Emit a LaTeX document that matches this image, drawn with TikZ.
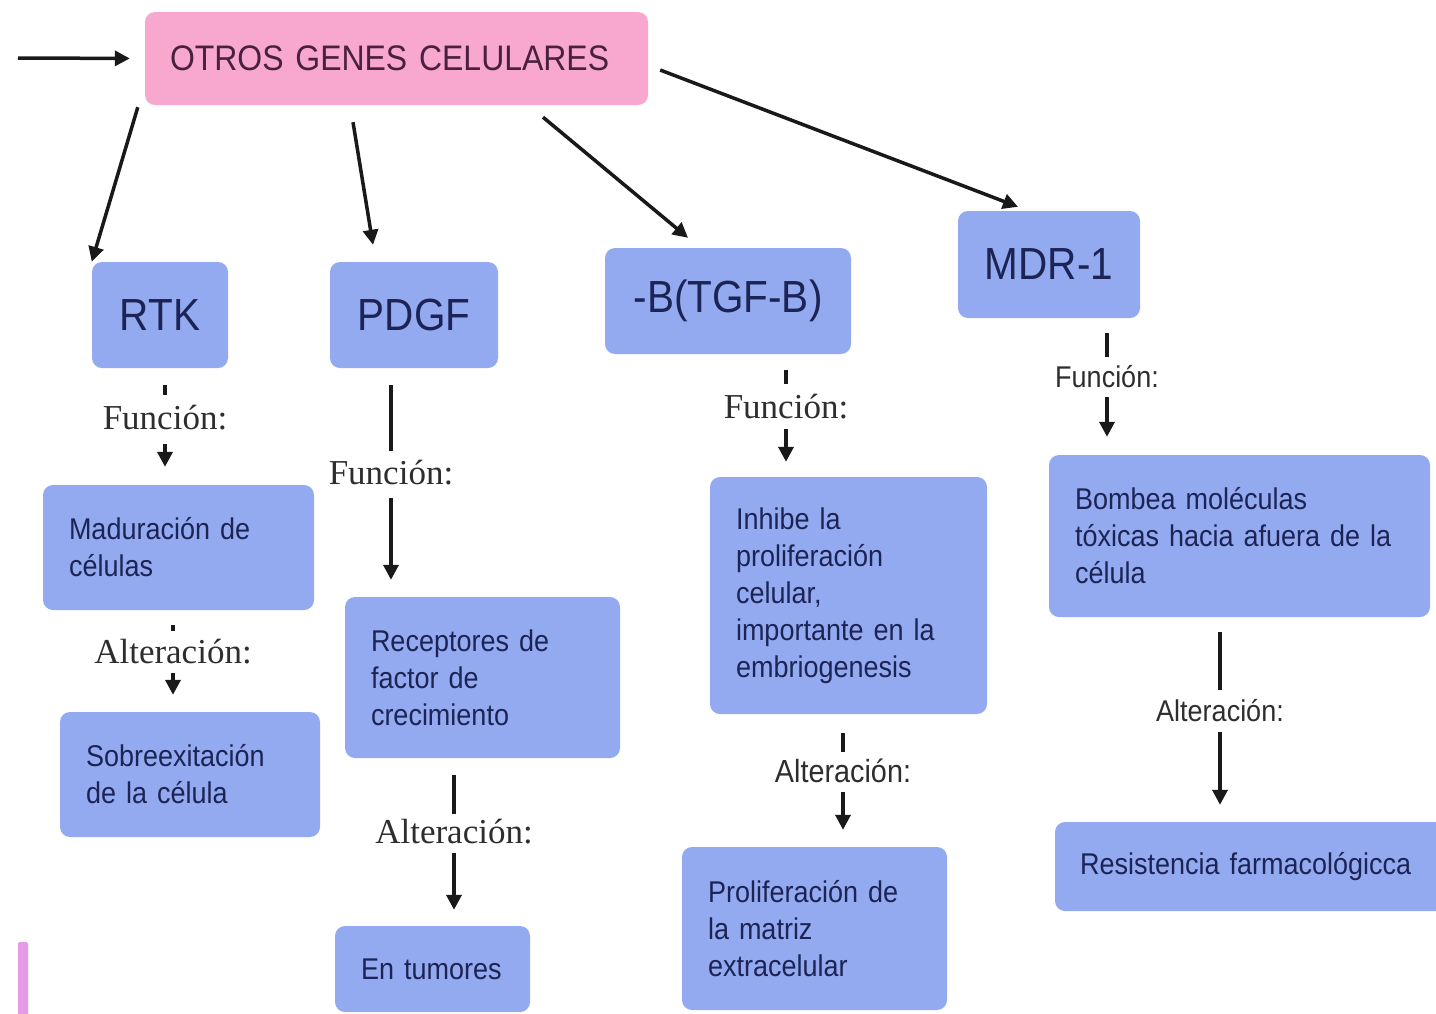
\documentclass[tikz,border=0pt]{standalone}
\usepackage{fontspec}
\setmainfont{Liberation Sans}[FakeStretch=0.9]
\newfontfamily\lblserif{Liberation Serif}
\usetikzlibrary{arrows.meta,calc}
\definecolor{boxblue}{HTML}{94AAF0}
\definecolor{boxpink}{HTML}{F8A8CE}
\definecolor{navy}{HTML}{1C2455}
\definecolor{plum}{HTML}{4A2040}
\definecolor{lblgray}{HTML}{2E2E2E}
\definecolor{barpink}{HTML}{E89AE6}
\begin{document}
\begin{tikzpicture}[x=1pt,y=-1pt,
  box/.style={fill=boxblue, rounded corners=10pt, inner sep=0pt, text=navy},
  headbox/.style={box, font=\fontsize{45}{54}\selectfont},
  txtbox/.style={box, font=\fontsize{30}{37}\selectfont, align=left},
  serlbl/.style={inner sep=0pt, text=lblgray, font=\lblserif\fontsize{35}{42}\selectfont},
  sanlbl/.style={inner sep=0pt, text=lblgray, font=\fontsize{30}{36}\selectfont},
  conn/.style={line width=3.5pt, draw=black!90},
  arr/.style={conn, -{Triangle[length=15pt,width=15pt]}},
]
\fill[white] (0,0) rectangle (1436,1013);
\useasboundingbox (0,0) rectangle (1436,1013);
\clip (0,0) rectangle (1436,1013);

% top
\node[box, fill=boxpink, text=plum, font=\fontsize{35.5}{43}\selectfont, align=left,
      minimum width=503pt, minimum height=93pt, text width=453pt] (top) at (396.5,58.5) {OTROS GENES CELULARES};
\coordinate (in) at (18,58);

% headers
\node[headbox, minimum width=136pt, minimum height=106pt] (rtk) at (160,315) {RTK};
\node[headbox, minimum width=168pt, minimum height=106pt] (pdgf) at (414,315) {PDGF};
\node[headbox, minimum width=246pt, minimum height=106pt] (tgf) at (728,301) {-B(TGF-B)};
\node[headbox, minimum width=182pt, minimum height=107pt] (mdr) at (1049,264.5) {MDR-1};

% RTK column
\node[serlbl] (rtkF) at (165,418) {Función:};
\node[txtbox, minimum width=271pt, minimum height=125pt, text width=219pt] (mad) at (178.5,547.5) {Maduración de\\células};
\node[serlbl] (rtkA) at (173,652) {Alteración:};
\node[txtbox, minimum width=260pt, minimum height=125pt, text width=208pt] (sob) at (190,774.5) {Sobreexitación\\de la célula};

% PDGF column
\node[serlbl] (pdgfF) at (391,473) {Función:};
\node[txtbox, minimum width=275pt, minimum height=161pt, text width=223pt] (rec) at (482.5,677.5) {Receptores de\\factor de\\crecimiento};
\node[serlbl] (pdgfA) at (454,832) {Alteración:};
\node[txtbox, minimum width=195pt, minimum height=86pt, text width=143pt] (tum) at (432.5,969) {En tumores};

% TGF column
\node[serlbl] (tgfF) at (786,407) {Función:};
\node[txtbox, minimum width=277pt, minimum height=237pt, text width=225pt] (inh) at (848.5,595.5) {Inhibe la\\proliferación\\celular,\\importante en la\\embriogenesis};
\node[sanlbl, font=\fontsize{32}{38}\selectfont] (tgfA) at (843,771) {Alteración:};
\node[txtbox, minimum width=265pt, minimum height=163pt, text width=213pt] (pro) at (814.5,928.5) {Proliferación de\\la matriz\\extracelular};

% MDR column
\node[sanlbl] (mdrF) at (1107,377) {Función:};
\node[txtbox, minimum width=381pt, minimum height=162pt, text width=329pt] (bom) at (1239.5,536) {Bombea moléculas\\tóxicas hacia afuera de la\\célula};
\node[sanlbl] (mdrA) at (1220,711) {Alteración:};
\node[txtbox, minimum width=395pt, minimum height=89pt, text width=345pt] (res) at (1252.5,866.5) {Resistencia farmacológicca};

% left bar fragment
\fill[barpink, rounded corners=2pt] (18,942) rectangle (28,1020);

% top connectors
\draw[arr, shorten >=15pt] (in) -- (top.west);
\draw[arr] ($(top.south west)+(-7,2)$) -- (rtk.north west);
\draw[arr] ($(top.south)+(-43.5,17)$) -- ($(pdgf.north)+(-41,-17)$);
\draw[arr] ($(top.south)+(146.5,12)$) -- ($(tgf.north)+(-40,-10)$);
\draw[arr] ($(top.east)+(12,11.5)$) -- ($(mdr.north)+(-31,-4)$);

% RTK connectors
\draw[conn, shorten <=17pt, shorten >=10pt] (rtk.south -| rtkF) -- (rtkF.north);
\draw[arr, shorten <=13pt, shorten >=18pt] (rtkF.south) -- (rtkF.south |- mad.north);
\draw[conn, shorten <=15pt, shorten >=8pt] (mad.south -| rtkA) -- (rtkA.north);
\draw[arr, shorten <=8pt, shorten >=17pt] (rtkA.south) -- (rtkA.south |- sob.north);

% PDGF connectors
\draw[conn, shorten <=17pt, shorten >=9pt] (pdgf.south -| pdgfF) -- (pdgfF.north);
\draw[arr, shorten <=12pt, shorten >=17pt] (pdgfF.south) -- (pdgfF.south |- rec.north);
\draw[conn, shorten <=17pt, shorten >=5pt] (rec.south -| pdgfA) -- (pdgfA.north);
\draw[arr, shorten <=8pt, shorten >=16pt] (pdgfA.south) -- (pdgfA.south |- tum.north);

% TGF connectors
\draw[conn, shorten <=16pt, shorten >=10pt] (tgf.south -| tgfF) -- (tgfF.north);
\draw[arr, shorten <=9pt, shorten >=15pt] (tgfF.south) -- (tgfF.south |- inh.north);
\draw[conn, shorten <=19pt, shorten >=7pt] (inh.south -| tgfA) -- (tgfA.north);
\draw[arr, shorten <=9pt, shorten >=17pt] (tgfA.south) -- (tgfA.south |- pro.north);

% MDR connectors
\draw[conn, shorten <=15pt, shorten >=9pt] (mdr.south -| mdrF) -- (mdrF.north);
\draw[arr, shorten <=9pt, shorten >=18pt] (mdrF.south) -- (mdrF.south |- bom.north);
\draw[conn, shorten <=15pt, shorten >=10pt] (bom.south -| mdrA) -- (mdrA.north);
\draw[arr, shorten <=10pt, shorten >=17pt] (mdrA.south) -- (mdrA.south |- res.north);
\end{tikzpicture}
\end{document}
